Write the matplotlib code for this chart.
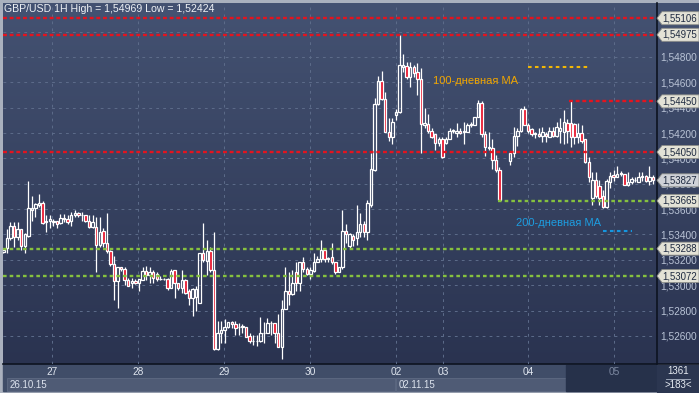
import matplotlib
matplotlib.use("Agg")
import matplotlib.pyplot as plt
import numpy as np
from matplotlib.patches import Rectangle, Polygon
from matplotlib.colors import LinearSegmentedColormap
from matplotlib.transforms import IdentityTransform

nan = float("nan")

# GBP/USD hourly candles, 26.10.15 10:00 .. 05.11.15 (two missing hours at 140-141)
opens = [
    1.5326, 1.5329, 1.5337, 1.5347, 1.5338, 1.5344, 1.5331, 1.5339, 1.5359, 1.5361,
    1.5363, 1.5365, 1.5350, 1.5351, 1.5350, 1.5351, 1.5349, 1.5353, 1.5352, 1.5351,
    1.5355, 1.5357, 1.5355, 1.5355, 1.5351, 1.5346, 1.5346, 1.5332, 1.5343, 1.5333,
    1.5327, 1.5317, 1.5303, 1.5314, 1.5313, 1.5304, 1.5302, 1.5303, 1.5302, 1.5304,
    1.5311, 1.5308, 1.5310, 1.5309, 1.5305, 1.5305, 1.5305, 1.5298, 1.5312, 1.5302,
    1.5298, 1.5304, 1.5295, 1.5290, 1.5291, 1.5286, 1.5325, 1.5319, 1.5327, 1.5312,
    1.5250, 1.5262, 1.5265, 1.5267, 1.5271, 1.5269, 1.5267, 1.5267, 1.5267, 1.5260,
    1.5256, 1.5256, 1.5256, 1.5262, 1.5262, 1.5270, 1.5270, 1.5262, 1.5251, 1.5281,
    1.5295, 1.5293, 1.5310, 1.5302, 1.5318, 1.5313, 1.5309, 1.5311, 1.5318, 1.5321,
    1.5328, 1.5321, 1.5322, 1.5318, 1.5310, 1.5314, 1.5343, 1.5331, 1.5339, 1.5337,
    1.5342, 1.5348, 1.5342, 1.5363, 1.5391, 1.5443, 1.5461, 1.5447, 1.5421, 1.5417,
    1.5434, 1.5437, 1.5472, 1.5473, 1.5464, 1.5472, 1.5468, 1.5463, 1.5426, 1.5427,
    1.5422, 1.5419, 1.5412, 1.5415, 1.5412, 1.5415, 1.5422, 1.5420, 1.5422, 1.5421,
    1.5421, 1.5426, 1.5426, 1.5433, 1.5444, 1.5419, 1.5409, 1.5408, 1.5399, 1.5391,
    nan, nan, 1.5398, 1.5404, 1.5418, 1.5422, 1.5439, 1.5426, 1.5423, 1.5419,
    1.5419, 1.5418, 1.5419, 1.5417, 1.5422, 1.5418, 1.5422, 1.5421, 1.5428, 1.5428,
    1.5427, 1.5417, 1.5420, 1.5415, 1.5397, 1.5369, 1.5383, 1.5378, 1.5370, 1.5362,
    1.5381, 1.5387, 1.5385, 1.5388, 1.5388, 1.5379, 1.5381, 1.5383, 1.5381, 1.5385,
    1.5386, 1.5382, 1.5385]
highs = [
    1.5329, 1.5344, 1.5350, 1.5350, 1.5350, 1.5344, 1.5341, 1.5382, 1.5370, 1.5365,
    1.5372, 1.5366, 1.5355, 1.5355, 1.5352, 1.5351, 1.5356, 1.5356, 1.5355, 1.5358,
    1.5359, 1.5358, 1.5358, 1.5355, 1.5355, 1.5355, 1.5354, 1.5354, 1.5345, 1.5357,
    1.5328, 1.5323, 1.5314, 1.5314, 1.5314, 1.5306, 1.5306, 1.5305, 1.5305, 1.5314,
    1.5315, 1.5314, 1.5312, 1.5310, 1.5307, 1.5306, 1.5306, 1.5313, 1.5312, 1.5302,
    1.5312, 1.5305, 1.5297, 1.5298, 1.5299, 1.5325, 1.5349, 1.5336, 1.5330, 1.5342,
    1.5272, 1.5272, 1.5273, 1.5271, 1.5272, 1.5272, 1.5270, 1.5269, 1.5267, 1.5262,
    1.5261, 1.5261, 1.5275, 1.5271, 1.5274, 1.5272, 1.5270, 1.5277, 1.5288, 1.5314,
    1.5310, 1.5312, 1.5318, 1.5318, 1.5322, 1.5314, 1.5314, 1.5325, 1.5323, 1.5336,
    1.5329, 1.5322, 1.5333, 1.5318, 1.5314, 1.5359, 1.5348, 1.5341, 1.5340, 1.5363,
    1.5357, 1.5351, 1.5367, 1.5404, 1.5448, 1.5465, 1.5469, 1.5452, 1.5432, 1.5432,
    1.5439, 1.5497, 1.5482, 1.5476, 1.5476, 1.5474, 1.5475, 1.5471, 1.5440, 1.5435,
    1.5424, 1.5419, 1.5417, 1.5417, 1.5417, 1.5424, 1.5423, 1.5428, 1.5424, 1.5429,
    1.5428, 1.5429, 1.5433, 1.5446, 1.5445, 1.5422, 1.5421, 1.5415, 1.5403, 1.5393,
    nan, nan, 1.5405, 1.5425, 1.5424, 1.5440, 1.5441, 1.5428, 1.5424, 1.5421,
    1.5424, 1.5425, 1.5421, 1.5425, 1.5425, 1.5429, 1.5432, 1.5438, 1.5431, 1.5446,
    1.5428, 1.5428, 1.5426, 1.5415, 1.5401, 1.5389, 1.5389, 1.5383, 1.5375, 1.5384,
    1.5389, 1.5391, 1.5394, 1.5390, 1.5388, 1.5389, 1.5385, 1.5385, 1.5389, 1.5389,
    1.5387, 1.5394, 1.5387]
lows = [
    1.5325, 1.5325, 1.5336, 1.5330, 1.5336, 1.5328, 1.5325, 1.5338, 1.5351, 1.5354,
    1.5362, 1.5348, 1.5342, 1.5345, 1.5347, 1.5345, 1.5348, 1.5350, 1.5348, 1.5347,
    1.5354, 1.5354, 1.5351, 1.5350, 1.5345, 1.5345, 1.5310, 1.5330, 1.5330, 1.5325,
    1.5315, 1.5288, 1.5282, 1.5311, 1.5300, 1.5299, 1.5298, 1.5301, 1.5295, 1.5304,
    1.5304, 1.5302, 1.5302, 1.5303, 1.5304, 1.5304, 1.5296, 1.5298, 1.5290, 1.5296,
    1.5294, 1.5293, 1.5284, 1.5276, 1.5280, 1.5286, 1.5318, 1.5308, 1.5310, 1.5249,
    1.5249, 1.5254, 1.5254, 1.5266, 1.5266, 1.5261, 1.5261, 1.5262, 1.5259, 1.5254,
    1.5253, 1.5252, 1.5255, 1.5254, 1.5262, 1.5261, 1.5254, 1.5251, 1.5242, 1.5281,
    1.5284, 1.5292, 1.5295, 1.5295, 1.5310, 1.5308, 1.5305, 1.5310, 1.5318, 1.5318,
    1.5318, 1.5318, 1.5317, 1.5309, 1.5310, 1.5313, 1.5333, 1.5329, 1.5331, 1.5332,
    1.5338, 1.5338, 1.5336, 1.5362, 1.5390, 1.5442, 1.5446, 1.5421, 1.5414, 1.5411,
    1.5430, 1.5436, 1.5468, 1.5463, 1.5456, 1.5464, 1.5450, 1.5404, 1.5424, 1.5420,
    1.5416, 1.5407, 1.5410, 1.5400, 1.5411, 1.5415, 1.5420, 1.5417, 1.5419, 1.5411,
    1.5421, 1.5425, 1.5426, 1.5433, 1.5417, 1.5402, 1.5407, 1.5392, 1.5389, 1.5366,
    nan, nan, 1.5395, 1.5401, 1.5410, 1.5421, 1.5426, 1.5420, 1.5418, 1.5416,
    1.5417, 1.5413, 1.5413, 1.5417, 1.5417, 1.5417, 1.5412, 1.5411, 1.5412, 1.5409,
    1.5411, 1.5412, 1.5412, 1.5396, 1.5381, 1.5363, 1.5369, 1.5363, 1.5361, 1.5361,
    1.5377, 1.5382, 1.5385, 1.5386, 1.5379, 1.5378, 1.5380, 1.5381, 1.5381, 1.5382,
    1.5381, 1.5379, 1.5380]
closes = [
    1.5328, 1.5337, 1.5347, 1.5338, 1.5344, 1.5331, 1.5340, 1.5361, 1.5361, 1.5364,
    1.5365, 1.5349, 1.5351, 1.5352, 1.5351, 1.5348, 1.5353, 1.5352, 1.5350, 1.5355,
    1.5357, 1.5355, 1.5355, 1.5351, 1.5346, 1.5350, 1.5332, 1.5342, 1.5333, 1.5327,
    1.5317, 1.5303, 1.5314, 1.5313, 1.5304, 1.5299, 1.5303, 1.5302, 1.5305, 1.5311,
    1.5308, 1.5310, 1.5306, 1.5305, 1.5305, 1.5305, 1.5298, 1.5311, 1.5302, 1.5298,
    1.5304, 1.5294, 1.5290, 1.5297, 1.5297, 1.5325, 1.5320, 1.5327, 1.5312, 1.5250,
    1.5262, 1.5265, 1.5267, 1.5271, 1.5269, 1.5266, 1.5267, 1.5268, 1.5259, 1.5256,
    1.5256, 1.5256, 1.5262, 1.5262, 1.5270, 1.5270, 1.5262, 1.5251, 1.5281, 1.5295,
    1.5293, 1.5302, 1.5302, 1.5318, 1.5313, 1.5309, 1.5312, 1.5318, 1.5321, 1.5328,
    1.5321, 1.5321, 1.5318, 1.5310, 1.5314, 1.5343, 1.5340, 1.5340, 1.5336, 1.5342,
    1.5348, 1.5342, 1.5365, 1.5392, 1.5443, 1.5461, 1.5447, 1.5421, 1.5417, 1.5429,
    1.5437, 1.5474, 1.5474, 1.5464, 1.5472, 1.5467, 1.5463, 1.5427, 1.5428, 1.5422,
    1.5417, 1.5412, 1.5415, 1.5401, 1.5415, 1.5422, 1.5422, 1.5422, 1.5420, 1.5422,
    1.5426, 1.5427, 1.5433, 1.5444, 1.5419, 1.5409, 1.5408, 1.5399, 1.5391, 1.5367,
    nan, nan, 1.5404, 1.5418, 1.5422, 1.5439, 1.5426, 1.5422, 1.5419, 1.5420,
    1.5418, 1.5421, 1.5418, 1.5422, 1.5418, 1.5425, 1.5424, 1.5429, 1.5422, 1.5417,
    1.5417, 1.5420, 1.5414, 1.5397, 1.5385, 1.5383, 1.5370, 1.5369, 1.5362, 1.5382,
    1.5386, 1.5385, 1.5388, 1.5388, 1.5379, 1.5381, 1.5384, 1.5383, 1.5385, 1.5386,
    1.5382, 1.5385, 1.5383]

day_pos = [13.6, 37.7, 61.8, 85.9, 110.0, 123.2, 147.0, 171.1]
day_labels = ["27", "28", "29", "30", "02", "03", "04", "05"]

price_ticks = [1.526, 1.528, 1.530, 1.532, 1.534, 1.536, 1.538,
               1.540, 1.542, 1.544, 1.546, 1.548, 1.550]

res_levels = [1.55106, 1.54975, 1.54450, 1.54050]
res_start = [0, 0, 159, 0]
sup_levels = [1.53665, 1.53288, 1.53072]
sup_start = [139, 0, 0]
last_price = 1.53827

ma100_level, ma100_from, ma100_to = 1.5472, 147, 164
ma200_level, ma200_from, ma200_to = 1.5343, 168, 176

title = "GBP/USD 1H High = 1,54969 Low = 1,52424"

plt.rcParams['font.family'] = ['Liberation Sans', 'DejaVu Sans']
plt.rcParams['lines.scale_dashes'] = False

W, H = 699, 393
fig = plt.figure(figsize=(W / 100, H / 100), dpi=100, facecolor='#aab1be')

# background panels in pixel coordinates
bg = fig.add_axes([0, 0, 1, 1], zorder=0)
grad = np.linspace(0, 1, 256)[:, None]
cmap = LinearSegmentedColormap.from_list('bgc', ['#445272', '#2a3350'])
bg.imshow(grad, cmap=cmap, extent=[3, W, 364, 3], aspect='auto')
bg.add_patch(Rectangle((3, 364), 653, 27, color='#404d68'))
bg.add_patch(Rectangle((7, 378), 388, 13, fc='#4f5b75', ec='#5e6a83', lw=0.6))
bg.add_patch(Rectangle((396, 378), 170, 13, fc='#4f5b75', ec='#5e6a83', lw=0.6))
bg.add_patch(Rectangle((566, 365), 90, 26, color='#26314a'))
bg.add_patch(Rectangle((657, 365), 42, 28, color='#2b3650'))
bg.plot([3, W], [364, 364], color='#0d1320', lw=1.2)
bg.plot([656.5, 656.5], [3, 364], color='#0d1320', lw=1.2)
bg.plot([666, 690], [378.5, 378.5], color='#aeb8c8', lw=0.6)
bg.text(10, 384.5, "26.10.15", color='#dde3ee', fontsize=7, va='center')
bg.text(399, 384.5, "02.11.15", color='#dde3ee', fontsize=7, va='center')
bg.text(678, 371.5, "1361", color='#e6ebf2', fontsize=7, va='center', ha='center')
bg.text(678, 384.5, ">183<", color='#e6ebf2', fontsize=7, va='center', ha='center')
bg.text(4, 8.5, title, color='#eef1f5', fontsize=7.6, va='center')
bg.set_xlim(0, W)
bg.set_ylim(H, 0)
bg.axis('off')

# price chart
ax = fig.add_axes([3 / W, 29 / H, 653 / W, 361 / H], zorder=1)
ax.patch.set_alpha(0)
for s in ax.spines.values():
    s.set_visible(False)
ax.set_xlim(-0.1, 182.85)
ax.set_ylim(1.52378, 1.55226)

ax.yaxis.tick_right()
ax.set_yticks(price_ticks)
# the 1,55000 label sits fully under the 1,54975 tag, so it is left blank
ax.set_yticklabels([f"{p:.5f}".replace('.', ',') if p < 1.5495 else ""
                    for p in price_ticks])
ax.tick_params(axis='y', length=0, pad=3, labelsize=7.3, labelcolor='#b9c3d6')
ax.set_xticks(day_pos)
ax.set_xticklabels(day_labels)
ax.tick_params(axis='x', length=0, pad=2.5, labelsize=7.3, labelcolor='#dfe5ee')
ax.get_xticklabels()[-1].set_color('#7c88a0')
ax.grid(True, color='#5d6c8a', lw=0.7, linestyle=(0, (2, 3)))
ax.set_axisbelow(True)

o = np.array(opens)
h = np.array(highs)
l = np.array(lows)
c = np.array(closes)
idx = np.arange(len(o))
ok = ~np.isnan(o)
top = np.maximum(o, c)
bot = np.minimum(o, c)
ax.vlines(idx[ok], l[ok], bot[ok], color='white', lw=0.9, zorder=3)
ax.vlines(idx[ok], top[ok], h[ok], color='white', lw=0.9, zorder=3)
face = ['#e8132b' if cc < oo else 'none' for oo, cc in zip(o[ok], c[ok])]
ax.bar(idx[ok], np.maximum(top - bot, 0.00002)[ok], bottom=bot[ok], width=0.68,
       color=face, edgecolor='white', lw=0.9, zorder=4)

xr = ax.get_xlim()[1]
for lvl, st in zip(res_levels, res_start):
    ax.plot([st - 0.4 if st else -0.1, xr], [lvl, lvl], color='#e3141f', lw=1.7,
            dashes=(2.8, 2.0), zorder=5)
for lvl, st in zip(sup_levels, sup_start):
    ax.plot([st - 0.4 if st else -0.1, xr], [lvl, lvl], color='#86c13f', lw=1.7,
            dashes=(2.6, 2.2), zorder=5)
ax.plot([ma100_from, ma100_to], [ma100_level] * 2, color='#f2b705', lw=1.5,
        dashes=(2.6, 2.4), zorder=5)
ax.plot([ma200_from, ma200_to], [ma200_level] * 2, color='#1596e0', lw=1.5,
        dashes=(2.6, 2.4), zorder=5)
ax.text(120.4, 1.5461, "100-дневная MA", color='#f0a500', fontsize=8, va='center')
ax.text(143.6, 1.5349, "200-дневная MA", color='#1d9de0', fontsize=8, va='center')

# price tags on the right scale
ident = IdentityTransform()
tags = [(p, '#e3e2d6') for p in res_levels + sup_levels] + [(last_price, '#cfd2d8')]
for p, fc in tags:
    y = ax.transData.transform((0, p))[1]
    pts = [(657, y), (662, y + 6.5), (699, y + 6.5), (699, y - 6.5), (662, y - 6.5)]
    fig.add_artist(Polygon(pts, closed=True, transform=ident, fc=fc,
                           ec='#8d8f8a', lw=0.6, zorder=5))
    fig.text(662, y, f"{p:.5f}".replace('.', ','), transform=ident, color='#1e2a40',
             fontsize=6.9, va='center', zorder=6)

fig.savefig("out.png", dpi=100)
